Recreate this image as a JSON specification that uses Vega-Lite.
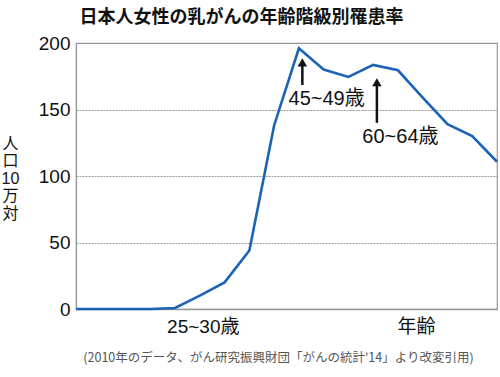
{
  "$schema": "https://vega.github.io/schema/vega-lite/v6.json",
  "width": 421,
  "height": 266,
  "autosize": {"type": "none"},
  "padding": {"left": 76, "top": 43, "right": 3, "bottom": 68},
  "background": "white",
  "config": {
    "view": {"stroke": "#9a9a9a", "strokeWidth": 1.2},
    "font": "Liberation Sans, Noto Sans CJK JP"
  },
  "title": {
    "text": "日本人女性の乳がんの年齢階級別罹患率",
    "fontSize": 18,
    "fontWeight": "bold",
    "font": "Noto Sans CJK JP",
    "anchor": "middle",
    "dx": -45,
    "offset": 7,
    "color": "#111111"
  },
  "datasets": {
    "rates": [
      {"age": "0-4", "idx": 0, "rate": 0},
      {"age": "5-9", "idx": 1, "rate": 0},
      {"age": "10-14", "idx": 2, "rate": 0},
      {"age": "15-19", "idx": 3, "rate": 0},
      {"age": "20-24", "idx": 4, "rate": 0.8},
      {"age": "25-29", "idx": 5, "rate": 10},
      {"age": "30-34", "idx": 6, "rate": 20},
      {"age": "35-39", "idx": 7, "rate": 44},
      {"age": "40-44", "idx": 8, "rate": 138},
      {"age": "45-49", "idx": 9, "rate": 196},
      {"age": "50-54", "idx": 10, "rate": 180},
      {"age": "55-59", "idx": 11, "rate": 174.5},
      {"age": "60-64", "idx": 12, "rate": 183.5},
      {"age": "65-69", "idx": 13, "rate": 179.5},
      {"age": "70-74", "idx": 14, "rate": 159},
      {"age": "75-79", "idx": 15, "rate": 139},
      {"age": "80-84", "idx": 16, "rate": 130},
      {"age": "85+", "idx": 17, "rate": 110.7}
    ],
    "shafts": [
      {"idx": 9.14, "rate": 168.4, "rate2": 183},
      {"idx": 12.15, "rate": 140, "rate2": 168}
    ],
    "heads": [
      {"idx": 9.14, "rate": 185.5},
      {"idx": 12.15, "rate": 170.5}
    ],
    "labels": [
      {"idx": 10.12, "rate": 157.7, "label": "45~49歳"},
      {"idx": 13.1, "rate": 129.5, "label": "60~64歳"}
    ]
  },
  "layer": [
    {
      "data": {"name": "rates"},
      "mark": {"type": "line", "color": "#1a63b5", "strokeWidth": 2.6, "clip": false},
      "encoding": {
        "x": {
          "field": "idx",
          "type": "quantitative",
          "scale": {"domain": [0, 17], "nice": false, "zero": false},
          "axis": {
            "values": [5.12, 13.73],
            "labelExpr": "datum.value < 10 ? '25~30歳' : '年齢'",
            "ticks": false,
            "grid": false,
            "domainColor": "#9a9a9a",
            "domainWidth": 1.5,
            "labelFontSize": 19,
            "labelColor": "#111111",
            "labelPadding": 8,
            "title": "(2010年のデータ、がん研究振興財団「がんの統計'14」より改変引用)",
            "titleFontSize": 12.5,
            "titleFontWeight": "normal",
            "titleFont": "Noto Sans CJK JP",
            "titleColor": "#555555",
            "titleX": 202,
            "titleY": 48,
            "titleBaseline": "middle"
          }
        },
        "y": {
          "field": "rate",
          "type": "quantitative",
          "scale": {"domain": [0, 200], "nice": false},
          "axis": {
            "values": [0, 50, 100, 150, 200],
            "ticks": false,
            "domainColor": "#9a9a9a",
            "domainWidth": 1.2,
            "labelFontSize": 19,
            "labelColor": "#111111",
            "labelPadding": 6,
            "grid": true,
            "gridDash": [2, 1],
            "gridColor": "#999999",
            "title": ["人", "口", "10", "万", "対"],
            "titleAngle": 0,
            "titleFontSize": 16,
            "titleFontWeight": "normal",
            "titleColor": "#111111",
            "titleLineHeight": 17.6,
            "titleX": -66,
            "titleY": 92,
            "titleBaseline": "top",
            "titleAlign": "center"
          }
        }
      }
    },
    {
      "data": {"name": "shafts"},
      "mark": {"type": "rule", "color": "#111111", "strokeWidth": 2.5},
      "encoding": {
        "x": {"field": "idx", "type": "quantitative"},
        "y": {"field": "rate", "type": "quantitative"},
        "y2": {"field": "rate2"}
      }
    },
    {
      "data": {"name": "heads"},
      "mark": {"type": "point", "shape": "triangle-up", "filled": true, "color": "#111111", "size": 90, "opacity": 1},
      "encoding": {
        "x": {"field": "idx", "type": "quantitative"},
        "y": {"field": "rate", "type": "quantitative"}
      }
    },
    {
      "data": {"name": "labels"},
      "mark": {"type": "text", "fontSize": 20, "color": "#111111", "align": "center", "baseline": "middle"},
      "encoding": {
        "x": {"field": "idx", "type": "quantitative"},
        "y": {"field": "rate", "type": "quantitative"},
        "text": {"field": "label"}
      }
    }
  ]
}
